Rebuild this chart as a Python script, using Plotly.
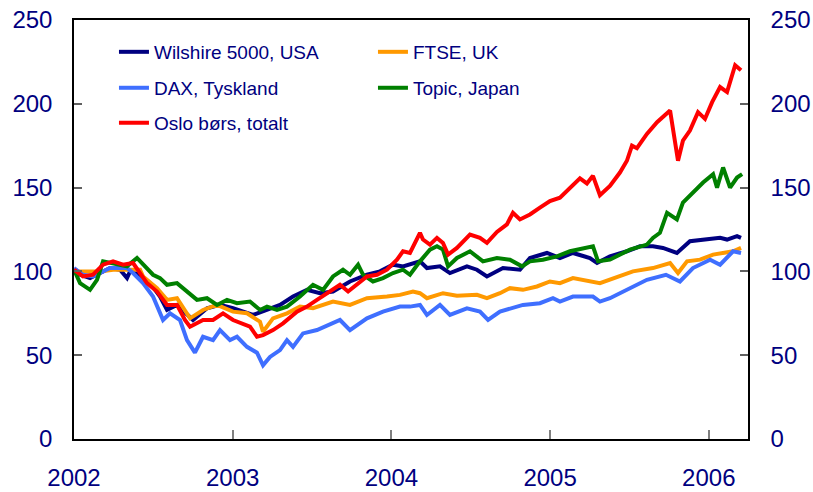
import plotly.graph_objects as go

# ---- data (decimal years, index values) ----
wil_x = [2002.000, 2002.038, 2002.101, 2002.164, 2002.227, 2002.290, 2002.334, 2002.353, 2002.416, 2002.479,
         2002.542, 2002.586, 2002.649, 2002.750, 2002.838, 2002.920, 2003.002, 2003.128, 2003.216, 2003.298,
         2003.380, 2003.468, 2003.550, 2003.632, 2003.739, 2003.846, 2003.928, 2004.010, 2004.073, 2004.136,
         2004.180, 2004.224, 2004.306, 2004.369, 2004.476, 2004.539, 2004.602, 2004.703, 2004.810, 2004.873,
         2004.980, 2005.062, 2005.144, 2005.251, 2005.296, 2005.377, 2005.484, 2005.566, 2005.648, 2005.711,
         2005.799, 2005.881, 2005.989, 2006.071, 2006.115, 2006.178, 2006.203]
wil_y = [100, 98, 96, 99, 102, 101, 96, 100, 98, 93,
         85, 77, 80, 71, 78, 80, 78, 74, 77, 80,
         85, 89, 87, 88, 94, 98, 100, 104, 103, 105,
         106, 102, 103, 99, 103, 101, 97, 102, 101, 108,
         111, 108, 111, 108, 105, 109, 112, 115, 115, 114,
         111, 118, 119, 120, 119, 121, 120]

ftse_x = [2002.000, 2002.082, 2002.164, 2002.246, 2002.334, 2002.416, 2002.435, 2002.523, 2002.586, 2002.649,
          2002.731, 2002.813, 2002.901, 2003.002, 2003.090, 2003.172, 2003.191, 2003.254, 2003.342, 2003.424,
          2003.506, 2003.632, 2003.739, 2003.846, 2003.972, 2004.054, 2004.136, 2004.180, 2004.224, 2004.325,
          2004.413, 2004.539, 2004.602, 2004.684, 2004.747, 2004.829, 2004.917, 2004.999, 2005.062, 2005.144,
          2005.314, 2005.522, 2005.648, 2005.756, 2005.806, 2005.863, 2005.945, 2006.027, 2006.153, 2006.203]
ftse_y = [100, 100, 100, 101, 101, 101, 97, 90, 83, 84,
          72, 77, 80, 76, 75, 70, 64, 72, 75, 79,
          78, 82, 80, 84, 85, 86, 88, 87, 84, 87,
          85.5, 86, 84, 87, 90, 89, 91, 94, 93, 96,
          93, 100, 102, 105, 99, 106, 107, 110, 112, 114]

dax_x = [2002.000, 2002.057, 2002.120, 2002.164, 2002.227, 2002.334, 2002.372, 2002.435, 2002.498, 2002.561,
         2002.605, 2002.668, 2002.712, 2002.762, 2002.813, 2002.876, 2002.920, 2002.983, 2003.027, 2003.090,
         2003.153, 2003.191, 2003.235, 2003.298, 2003.342, 2003.380, 2003.443, 2003.531, 2003.632, 2003.676,
         2003.739, 2003.846, 2003.947, 2004.054, 2004.117, 2004.180, 2004.224, 2004.306, 2004.369, 2004.476,
         2004.558, 2004.609, 2004.684, 2004.766, 2004.829, 2004.936, 2005.018, 2005.062, 2005.144, 2005.270,
         2005.314, 2005.377, 2005.484, 2005.610, 2005.730, 2005.818, 2005.900, 2006.008, 2006.071, 2006.153,
         2006.203]
dax_y = [102, 98, 97, 99, 102, 102, 99, 93, 85, 71,
         75, 71, 59, 51.5, 61, 59, 65, 59, 61, 55,
         51.5, 44, 49, 53, 59, 55, 63, 65, 69, 71,
         65, 72, 76, 79, 79, 80, 74, 80, 74, 78,
         76, 71, 76, 78, 80, 81, 84, 82, 85, 85,
         82, 84, 89, 95, 98, 94, 102, 107, 104, 112,
         111]

top_x = [2002.000, 2002.038, 2002.101, 2002.145, 2002.183, 2002.271, 2002.334, 2002.397, 2002.435, 2002.498,
         2002.542, 2002.586, 2002.649, 2002.712, 2002.775, 2002.838, 2002.901, 2002.964, 2003.027, 2003.109,
         2003.172, 2003.216, 2003.279, 2003.342, 2003.424, 2003.506, 2003.569, 2003.632, 2003.695, 2003.739,
         2003.790, 2003.821, 2003.884, 2003.947, 2004.010, 2004.073, 2004.117, 2004.180, 2004.243, 2004.287,
         2004.325, 2004.357, 2004.413, 2004.495, 2004.577, 2004.665, 2004.747, 2004.823, 2004.873, 2004.955,
         2005.043, 2005.125, 2005.270, 2005.302, 2005.377, 2005.503, 2005.610, 2005.648, 2005.692, 2005.737,
         2005.799, 2005.837, 2005.900, 2005.964, 2006.027, 2006.052, 2006.090, 2006.134, 2006.178, 2006.210]
top_y = [101, 93, 89, 95, 106, 104, 103, 108, 104, 98,
         96, 92, 93, 88, 83, 84, 80, 83, 81, 82,
         77, 79, 77, 79, 85, 92, 89, 97, 101, 98,
         104, 98, 94, 96, 99, 101, 98, 106, 113, 115,
         113, 103, 108, 112, 106, 108, 107, 103, 106, 107,
         109, 112, 115, 106, 107, 113, 116, 120, 123, 135,
         131, 141, 147, 153, 158, 150, 162, 150, 156, 158]

oslo_x = [2002.000, 2002.057, 2002.120, 2002.183, 2002.246, 2002.309, 2002.372, 2002.416, 2002.460, 2002.523,
          2002.586, 2002.649, 2002.699, 2002.731, 2002.813, 2002.876, 2002.939, 2003.002, 2003.109, 2003.153,
          2003.191, 2003.254, 2003.317, 2003.405, 2003.468, 2003.531, 2003.613, 2003.676, 2003.727, 2003.783,
          2003.846, 2003.909, 2003.972, 2004.035, 2004.073, 2004.117, 2004.180, 2004.199, 2004.243, 2004.287,
          2004.325, 2004.357, 2004.413, 2004.495, 2004.558, 2004.602, 2004.665, 2004.728, 2004.766, 2004.810,
          2004.873, 2004.936, 2004.999, 2005.062, 2005.125, 2005.188, 2005.232, 2005.270, 2005.314, 2005.377,
          2005.440, 2005.484, 2005.516, 2005.547, 2005.610, 2005.674, 2005.756, 2005.774, 2005.806, 2005.837,
          2005.881, 2005.932, 2005.976, 2006.021, 2006.071, 2006.115, 2006.166, 2006.203]
oslo_y = [101, 97, 98, 104, 106, 104, 105, 99, 93, 88,
          80, 80, 71, 67, 71, 71, 75, 71, 67, 61,
          62, 65, 69, 76, 79, 83, 88, 92, 88, 92,
          97, 98, 101, 107, 112, 111, 123, 119, 116, 120,
          117, 110, 114, 122, 120, 117, 123.5, 128, 135, 131,
          134, 138, 142, 144, 150, 155.5, 152.5, 157, 145.5, 151,
          159, 166, 175, 173.5, 182, 189, 196, 186, 166, 178,
          184, 195, 191, 201, 210, 207, 223, 220]

names = ["Wilshire 5000, USA", "FTSE, UK", "DAX, Tyskland", "Topic, Japan", "Oslo børs, totalt"]
colors = ["#000080", "#FF9900", "#3F6FFF", "#008000", "#FF0000"]
legend_ids = ["legend", "legend", "legend2", "legend2", "legend3"]
xs = [wil_x, ftse_x, dax_x, top_x, oslo_x]
ys = [wil_y, ftse_y, dax_y, top_y, oslo_y]

y_ticks = [0, 50, 100, 150, 200, 250]
x_ticks = [2002, 2003, 2004, 2005, 2006]
x_labels = ["2002", "2003", "2004", "2005", "2006"]

fig = go.Figure()
for i in range(5):
    fig.add_trace(go.Scatter(
        x=xs[i], y=ys[i], mode="lines", name=names[i],
        line=dict(color=colors[i], width=4),
        legend=legend_ids[i],
        yaxis="y2" if i == 4 else "y",
    ))

navy = "#000080"
font_family = "Liberation Sans, Arial, sans-serif"
leg_common = dict(orientation="h", xanchor="left", yanchor="middle",
                  bgcolor="rgba(0,0,0,0)", entrywidth=214, entrywidthmode="pixels",
                  font=dict(family=font_family, size=19, color=navy))

fig.update_layout(
    width=813, height=492,
    margin=dict(l=74, r=65, t=20, b=52.5, pad=0, autoexpand=False),
    paper_bgcolor="white", plot_bgcolor="white",
    font=dict(family=font_family, size=24, color=navy),
    legend=dict(x=0.0593, y=0.9237, **leg_common),
    legend2=dict(x=0.0593, y=0.8379, **leg_common),
    legend3=dict(x=0.0593, y=0.7545, **leg_common),
    xaxis=dict(range=[2002, 2006.247], tickvals=x_ticks, ticktext=x_labels, automargin=False,
               showgrid=False, zeroline=False, showline=True, linecolor="black", linewidth=1.5,
               mirror=True, ticks="inside", ticklen=9, tickcolor="#808080", tickwidth=1.5,
               ticklabelstandoff=16, tickfont=dict(size=24, color=navy)),
    yaxis=dict(range=[0, 250], tickvals=y_ticks, showgrid=False, zeroline=False, automargin=False,
               showline=True, linecolor="black", linewidth=1.5,
               ticks="inside", ticklen=8, tickcolor="#606060", tickwidth=1.5,
               ticklabelstandoff=15, tickfont=dict(size=24, color=navy)),
    yaxis2=dict(range=[0, 250], tickvals=y_ticks, overlaying="y", side="right", automargin=False,
                showgrid=False, zeroline=False, showline=True, linecolor="black", linewidth=1.5,
                ticks="inside", ticklen=8, tickcolor="#606060", tickwidth=1.5,
                ticklabelstandoff=16, tickfont=dict(size=24, color=navy)),
)

fig.write_html("out.html", config={"displayModeBar": False},
               post_script="document.body.style.margin='0px';")
